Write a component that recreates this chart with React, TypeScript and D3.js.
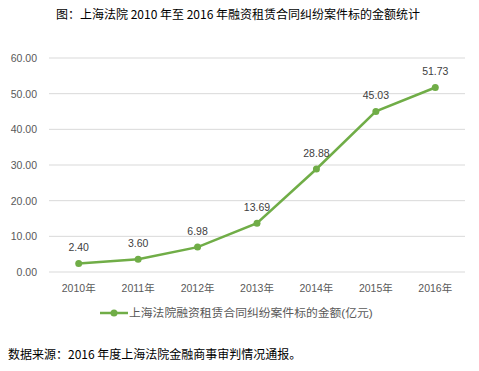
import React from "react";
import * as d3 from "d3";

const categories = ["2010年", "2011年", "2012年", "2013年", "2014年", "2015年", "2016年"];
const values = [2.4, 3.6, 6.98, 13.69, 28.88, 45.03, 51.73];
const yTicks = [0, 10, 20, 30, 40, 50, 60];
const title = "图：上海法院 2010 年至 2016 年融资租赁合同纠纷案件标的金额统计";
const seriesName = "上海法院融资租赁合同纠纷案件标的金额(亿元)";
const source = "数据来源：2016 年度上海法院金融商事审判情况通报。";

export default function App() {
  const W = 479, H = 371;
  const x = d3.scaleBand<string>().domain(categories).range([49, 465]);
  const y = d3.scaleLinear().domain([0, 60]).range([272, 58]);
  const color = "#70AD47";
  const cx = (c: string) => (x(c) as number) + x.bandwidth() / 2;
  const line = d3.line<number>().x((_, i) => cx(categories[i])).y((v) => y(v));
  const font = "'Liberation Sans', Arial, 'Noto Sans CJK SC', sans-serif";
  return (
    <svg width={W} height={H} style={{ position: "absolute", left: 0, top: 0, background: "#fff" }}>
      <text x={238} y={19} textAnchor="middle" fontSize={12} fill="#000" fontFamily="'Noto Sans CJK SC', sans-serif">{title}</text>
      {yTicks.map((t) => (
        <g key={t}>
          <line x1={49} x2={465} y1={y(t)} y2={y(t)} stroke="#D9D9D9" strokeWidth={1} />
          <text x={37} y={y(t) + 4} textAnchor="end" fontSize={10.5} fill="#595959" fontFamily={font}>{t.toFixed(2)}</text>
        </g>
      ))}
      {categories.map((c) => (
        <text key={c} x={cx(c)} y={292} textAnchor="middle" fontSize={10.5} fill="#595959" fontFamily={font}>{c}</text>
      ))}
      <path d={line(values) || ""} fill="none" stroke={color} strokeWidth={2.5} />
      {values.map((v, i) => (
        <g key={i}>
          <circle cx={cx(categories[i])} cy={y(v)} r={3.5} fill={color} />
          <text x={cx(categories[i])} y={y(v) - 12} textAnchor="middle" fontSize={10.5} fill="#404040" fontFamily={font}>{v.toFixed(2)}</text>
        </g>
      ))}
      <line x1={100} x2={128} y1={313} y2={313} stroke={color} strokeWidth={2.5} />
      <circle cx={114} cy={313} r={3.5} fill={color} />
      <text x={129} y={317} fontSize={11.8} fill="#595959" fontFamily={font}>{seriesName}</text>
      <text x={8} y={359} fontSize={12} fill="#000" fontFamily="'Noto Sans CJK SC', sans-serif">{source}</text>
    </svg>
  );
}
